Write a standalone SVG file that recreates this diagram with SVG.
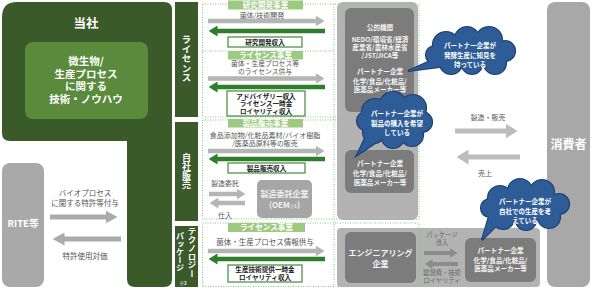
<svg xmlns="http://www.w3.org/2000/svg" width="591" height="289" viewBox="0 0 591 289">
<style>
text{font-family:"Noto Sans CJK JP","Noto Sans",sans-serif;text-anchor:middle}
.wb{fill:#fff;font-weight:bold}
.lbl{fill:#555;font-size:7px}
.bx{fill:#fff;stroke:#3e8b38;stroke-width:1.2}
.bt{fill:#1a1a1a;font-size:6.6px;font-weight:bold}
.hd{fill:#9dca80}
.ht{fill:#fff;font-size:7.6px;font-weight:bold}
.dot{fill:none;stroke:#86c286;stroke-width:1;stroke-dasharray:1 1.5}
.ga{stroke:#b5b5b5;stroke-width:4.5;marker-end:url(#mg)}
.gr{stroke:#2f7e2b;stroke-width:4.5;marker-end:url(#mgr)}
.wa{stroke:#bdbdbd;stroke-width:5;marker-end:url(#mw)}
.ra{stroke:#ababab;stroke-width:5;marker-end:url(#mr)}
.da{stroke:#8b8b8b;stroke-width:4;marker-end:url(#md)}
.tab{fill:#3a5a2a}
.vt{writing-mode:vertical-rl;fill:#fff;font-weight:bold}
.gb{fill:#7c7c7c}
.gt{fill:#f4f4f4;font-size:6.6px;font-weight:bold}
.co{fill:#1d3f70;stroke:#1d3f70;stroke-width:2.2}
.cf{fill:#2d5c97;stroke:none}
.ct{fill:#fff;font-size:6.5px;font-weight:bold}
</style>
<defs>
<marker id="mg" viewBox="0 0 9 11" refX="0.5" refY="5.5" markerUnits="userSpaceOnUse" markerWidth="9" markerHeight="11" orient="auto"><path d="M0,0L9,5.5L0,11z" fill="#b5b5b5"/></marker>
<marker id="mgr" viewBox="0 0 9 11" refX="0.5" refY="5.5" markerUnits="userSpaceOnUse" markerWidth="9" markerHeight="11" orient="auto"><path d="M0,0L9,5.5L0,11z" fill="#2f7e2b"/></marker>
<marker id="mw" viewBox="0 0 12 15" refX="0.5" refY="7.5" markerUnits="userSpaceOnUse" markerWidth="12" markerHeight="15" orient="auto"><path d="M0,0L12,7.5L0,15z" fill="#bdbdbd"/></marker>
<marker id="mr" viewBox="0 0 12 13" refX="0.5" refY="6.5" markerUnits="userSpaceOnUse" markerWidth="12" markerHeight="13" orient="auto"><path d="M0,0L12,6.5L0,13z" fill="#ababab"/></marker>
<marker id="md" viewBox="0 0 8 10" refX="0.5" refY="5" markerUnits="userSpaceOnUse" markerWidth="8" markerHeight="10" orient="auto"><path d="M0,0L8,5L0,10z" fill="#8b8b8b"/></marker>
<g id="cs1"><circle cx="446" cy="45" r="13"/><circle cx="467" cy="39" r="12"/><circle cx="489" cy="40" r="13"/><circle cx="505" cy="51" r="10"/><circle cx="495" cy="63" r="11"/><circle cx="472" cy="64" r="10"/><circle cx="451" cy="63" r="11"/><circle cx="435" cy="55" r="9"/><ellipse cx="470" cy="52" rx="34" ry="16"/><polygon points="437,58 408,71 447,66"/></g>
<g id="cs2"><circle cx="375" cy="112" r="13"/><circle cx="393" cy="105" r="13"/><circle cx="413" cy="108" r="13"/><circle cx="422" cy="122" r="10"/><circle cx="412" cy="135" r="11"/><circle cx="393" cy="137" r="11"/><circle cx="374" cy="132" r="11"/><circle cx="366" cy="121" r="9"/><ellipse cx="396" cy="121" rx="30" ry="17"/><polygon points="368,132 357,155 381,139"/></g>
<g id="cs3"><circle cx="500" cy="198" r="12"/><circle cx="520" cy="191" r="12"/><circle cx="542" cy="192" r="12"/><circle cx="559" cy="204" r="10"/><circle cx="549" cy="217" r="11"/><circle cx="526" cy="220" r="10"/><circle cx="503" cy="218" r="11"/><circle cx="490" cy="208" r="9"/><ellipse cx="525" cy="206" rx="34" ry="15"/><polygon points="490,213 482,240 501,221"/></g>
</defs>

<!-- 当社 -->
<g id="company">
<path d="M2,17Q2,2 17,2L164,2Q172,2 172,10L172,279Q172,287 164,287L135,287Q127,287 127,279L127,141L10,141Q2,141 2,133Z" fill="#3a5a2a"/>
<text x="86" y="28" class="wb" font-size="12.5">当社</text>
<rect x="25" y="42" width="123" height="77" rx="8" fill="#5a8a3c"/>
<text class="wb" font-size="10.5"><tspan x="86" y="65">微生物/</tspan><tspan x="86" y="77.5">生産プロセス</tspan><tspan x="86" y="90">に関する</tspan><tspan x="86" y="103">技術・ノウハウ</tspan></text>
</g>

<!-- tabs -->
<g id="tab-license"><rect x="175" y="2" width="23" height="115" class="tab"/><text x="186.5" y="58.5" class="vt" font-size="9.5">ライセンス</text></g>
<g id="tab-sales"><rect x="175" y="122" width="23" height="99" class="tab"/><text x="186.5" y="171" class="vt" font-size="9">自社販売</text></g>
<g id="tab-tech"><rect x="175" y="226" width="23" height="61" class="tab"/><text x="192" y="227" class="vt" font-size="8.5" style="text-anchor:start">テクノロジー</text><text x="180" y="232" class="vt" font-size="8" style="text-anchor:start">パッケージ</text><text x="183" y="285" class="wb" font-size="4.5">※2</text></g>

<!-- RITE -->
<g id="rite"><rect x="2" y="163" width="42" height="124" rx="8" fill="#a9a9a9"/><text x="23" y="226.5" class="wb" font-size="9.5">RITE等</text></g>

<!-- consumers -->
<g id="consumer"><rect x="547" y="2" width="43" height="285" rx="8" fill="#a8a8a8"/><text x="568.5" y="148.5" class="wb" font-size="12">消費者</text></g>

<!-- gray panels -->
<g id="panel-upper"><rect x="337" y="2" width="81" height="218" rx="6" fill="#b3b3b3"/></g>
<g id="panel-lower"><rect x="337" y="228" width="203" height="59" rx="4" fill="#b3b3b3"/></g>

<!-- dotted row boxes -->
<g id="rows">
<rect x="202.5" y="4" width="216.5" height="113" class="dot"/>
<rect x="202.5" y="120" width="216.5" height="99" class="dot"/>
<rect x="202.5" y="223" width="216.5" height="63.5" class="dot"/>
<line x1="334" y1="4" x2="334" y2="286.5" class="dot"/>
<line x1="202.5" y1="51" x2="334" y2="51" class="dot"/>
</g>

<g id="box-public"><rect x="345" y="8" width="69" height="104" rx="6" class="gb"/>
<text class="gt"><tspan x="380" y="29.5">公的機関</tspan><tspan x="380" y="42">NEDO/環境省/経済</tspan><tspan x="380" y="50">産業省/農林水産省</tspan><tspan x="380" y="58">/JST/JICA等</tspan><tspan x="380" y="73.5">パートナー企業</tspan><tspan x="380" y="84">化学/食品/化粧品/</tspan><tspan x="380" y="92">医薬品メーカー等</tspan></text></g>
<g id="box-partner-sales"><rect x="345" y="150" width="69" height="43" rx="6" class="gb"/>
<text class="gt"><tspan x="380" y="165.5">パートナー企業</tspan><tspan x="380" y="175.5">化学/食品/化粧品/</tspan><tspan x="380" y="184.5">医薬品メーカー等</tspan></text></g>
<g id="box-eng"><rect x="345" y="232" width="71" height="51" rx="6" class="gb"/>
<text class="gt" style="font-size:8px"><tspan x="380.5" y="256">エンジニアリング</tspan><tspan x="380.5" y="266.5">企業</tspan></text></g>
<g id="box-partner-tech"><rect x="465" y="238" width="71" height="44" rx="6" class="gb"/>
<text class="gt"><tspan x="500.5" y="252.5">パートナー企業</tspan><tspan x="500.5" y="263">化学/食品/化粧品/</tspan><tspan x="500.5" y="271">医薬品メーカー等</tspan></text></g>
<g id="box-oem"><rect x="257" y="180" width="55" height="38" rx="5" fill="#a6a6a6"/>
<text x="284.5" y="196.5" fill="#f0f0f0" font-size="8" font-weight="bold">製造委託企業</text>
<text x="284.5" y="208" fill="#f0f0f0" font-size="8" font-weight="bold">(OEM<tspan font-size="4.5">※1</tspan>)</text></g>

<!-- headers and labels -->
<g id="headers">
<rect x="228" y="0.5" width="75" height="9" class="hd"/><text x="265.5" y="7.8" class="ht">研究開発事業</text>
<rect x="228" y="51" width="75" height="8.5" class="hd"/><text x="265.5" y="58" class="ht">ライセンス事業</text>
<rect x="228" y="119" width="75" height="8.5" class="hd"/><text x="265.5" y="126" class="ht">製品販売事業</text>
<rect x="228" y="223" width="77" height="9" class="hd"/><text x="266.5" y="230.3" class="ht">ライセンス事業</text>
</g>

<g id="income-boxes">
<rect x="228" y="37" width="74" height="10" class="bx"/><text x="265" y="44.5" class="bt">研究開発収入</text>
<rect x="227" y="91" width="78" height="25" class="bx"/><text class="bt"><tspan x="266" y="98.5">アドバイザリー収入</tspan><tspan x="266" y="106">ライセンス一時金</tspan><tspan x="266" y="113.5">ロイヤリティ収入</tspan></text>
<rect x="228" y="163" width="77" height="10" class="bx"/><text x="266.5" y="170.5" class="bt">製品販売収入</text>
<rect x="228" y="265" width="74" height="17" class="bx"/><text class="bt"><tspan x="265" y="272">生産技術提供一時金</tspan><tspan x="265" y="280">ロイヤリティ収入</tspan></text>
</g>

<g id="labels">
<text x="262" y="17.5" class="lbl">菌体/技術開発</text>
<text class="lbl" style="font-size:6.8px"><tspan x="265" y="66">菌体・生産プロセス等</tspan><tspan x="265" y="73.5">のライセンス供与</tspan></text>
<text class="lbl"><tspan x="265" y="137.5">食品添加物/化粧品素材/バイオ樹脂</tspan><tspan x="265" y="145.5">/医薬品原料等の販売</tspan></text>
<text x="225" y="185.5" class="lbl">製造委託</text>
<text x="225" y="217.5" class="lbl">仕入</text>
<text x="265" y="244.5" class="lbl" style="font-size:7.5px">菌体・生産プロセス情報供与</text>
<text class="lbl" style="font-size:7.5px"><tspan x="85" y="195.5">バイオプロセス</tspan><tspan x="85" y="205.5">に関する特許等付与</tspan></text>
<text x="85" y="258.5" class="lbl" style="font-size:7.5px">特許使用対価</text>
<text x="488" y="119.5" class="lbl">製造・販売</text>
<text x="485" y="175.5" class="lbl">売上</text>
<text class="lbl" style="font-size:6.3px;fill:#666"><tspan x="442" y="237">パッケージ</tspan><tspan x="442" y="245">導入</tspan><tspan x="442" y="275">建設費・技術</tspan><tspan x="442" y="283">ロイヤリティ</tspan></text>
</g>

<!-- connectors -->
<g id="connectors" fill="none">
<line x1="208" y1="21" x2="316" y2="21" class="ga"/>
<line x1="325" y1="31" x2="217" y2="31" class="gr"/>
<line x1="208" y1="78.5" x2="316" y2="78.5" class="ga"/>
<line x1="325" y1="87" x2="217" y2="87" class="gr"/>
<line x1="208" y1="151" x2="316" y2="151" class="ga"/>
<line x1="325" y1="159" x2="217" y2="159" class="gr"/>
<line x1="209" y1="194" x2="237" y2="194" class="ga"/>
<line x1="245" y1="203" x2="218" y2="203" class="ga"/>
<line x1="208" y1="251" x2="316" y2="251" class="ga"/>
<line x1="325" y1="259" x2="217" y2="259" class="gr"/>
<line x1="50" y1="217" x2="106" y2="217" class="ra"/>
<line x1="121" y1="239" x2="64" y2="239" class="ra"/>
<line x1="455" y1="131" x2="506" y2="131" class="wa"/>
<line x1="520" y1="157" x2="468" y2="157" class="wa"/>
<line x1="424" y1="253" x2="450" y2="253" class="da"/>
<line x1="458" y1="264" x2="432" y2="264" class="da"/>
</g>

<!-- clouds -->
<g id="cloud1"><use href="#cs1" class="co"/><use href="#cs1" class="cf"/>
<text class="ct"><tspan x="470" y="47.5">パートナー企業が</tspan><tspan x="470" y="57.5">発酵生産に知見を</tspan><tspan x="470" y="67">持っている</tspan></text></g>
<g id="cloud2"><use href="#cs2" class="co"/><use href="#cs2" class="cf"/>
<text class="ct"><tspan x="397" y="115.5">パートナー企業が</tspan><tspan x="397" y="125.5">製品の購入を希望</tspan><tspan x="397" y="135">している</tspan></text></g>
<g id="cloud3"><use href="#cs3" class="co"/><use href="#cs3" class="cf"/>
<text class="ct"><tspan x="525" y="204">パートナー企業が</tspan><tspan x="525" y="213.5">自社での生産を考</tspan><tspan x="525" y="222.5">えている</tspan></text></g>
</svg>
